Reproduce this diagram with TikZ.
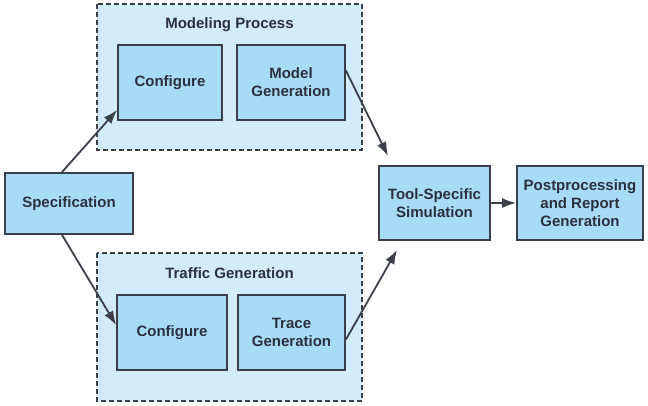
\documentclass[tikz,border=0pt]{standalone}
\usepackage{fontspec}
\setmainfont{Liberation Sans}
\usetikzlibrary{arrows.meta}
\definecolor{boxfill}{HTML}{A8DCF6}
\definecolor{grpfill}{HTML}{D2ECFB}
\definecolor{edge}{HTML}{3A3F4A}
\definecolor{txt}{HTML}{2B3040}
\begin{document}
\begin{tikzpicture}[x=1pt,y=-1pt,
  grp/.style={draw=edge, fill=grpfill, dash pattern=on 5pt off 3pt, line width=1.6pt},
  blk/.style={draw=edge, fill=boxfill, line width=1.8pt},
  lbl/.style={text=txt, font=\bfseries\fontsize{15}{18}\selectfont, align=center},
  conn/.style={draw=edge, line width=1.8pt, -{Latex[length=14pt,width=10pt]}}]
\useasboundingbox (0,0) rectangle (648,406);
% groups
\path[grp] (97,4) rectangle (362,150);
\path[grp] (97,253) rectangle (362,401);
\node[lbl] (t1) at (229.5,25) {Modeling Process};
\node[lbl] (t2) at (229.5,273) {Traffic Generation};
% boxes
\node[blk, minimum width=104pt, minimum height=75pt, inner sep=0pt] (c1) at (170,82.5) {};
\node[lbl] at (c1) {Configure};
\node[blk, minimum width=108pt, minimum height=75pt, inner sep=0pt] (mg) at (291,82.5) {};
\node[lbl] at (mg) {Model\\Generation};
\node[blk, minimum width=110pt, minimum height=75pt, inner sep=0pt] (c2) at (172,332.5) {};
\node[lbl] at (c2) {Configure};
\node[blk, minimum width=107pt, minimum height=75pt, inner sep=0pt] (tg) at (291.5,332.5) {};
\node[lbl] at (tg) {Trace\\Generation};
\node[blk, minimum width=128pt, minimum height=61pt, inner sep=0pt] (sp) at (69,203.5) {};
\node[lbl] at (sp) {Specification};
\node[blk, minimum width=111pt, minimum height=74pt, inner sep=0pt] (ts) at (434.5,203) {};
\node[lbl] at (ts) {Tool-Specific\\Simulation};
\node[blk, minimum width=126pt, minimum height=74pt, inner sep=0pt] (pp) at (580,203) {};
\node[lbl] at (pp) {Postprocessing\\and Report\\Generation};
% connectors
\coordinate (a1) at (117,110);
\coordinate (a2) at (117,325);
\coordinate (a3) at (388,156);
\coordinate (a4) at (397,250);
\draw[conn] ([xshift=-7pt]sp.north) -- (c1.south west |- a1);
\draw[conn] ([xshift=-7pt]sp.south) -- (c2.south west |- a2);
\draw[conn] ([yshift=12pt]mg.east) -- (a3);
\draw[conn] ([yshift=-7pt]tg.east) -- (a4);
\draw[conn] (ts) -- (pp);
\end{tikzpicture}
\end{document}
